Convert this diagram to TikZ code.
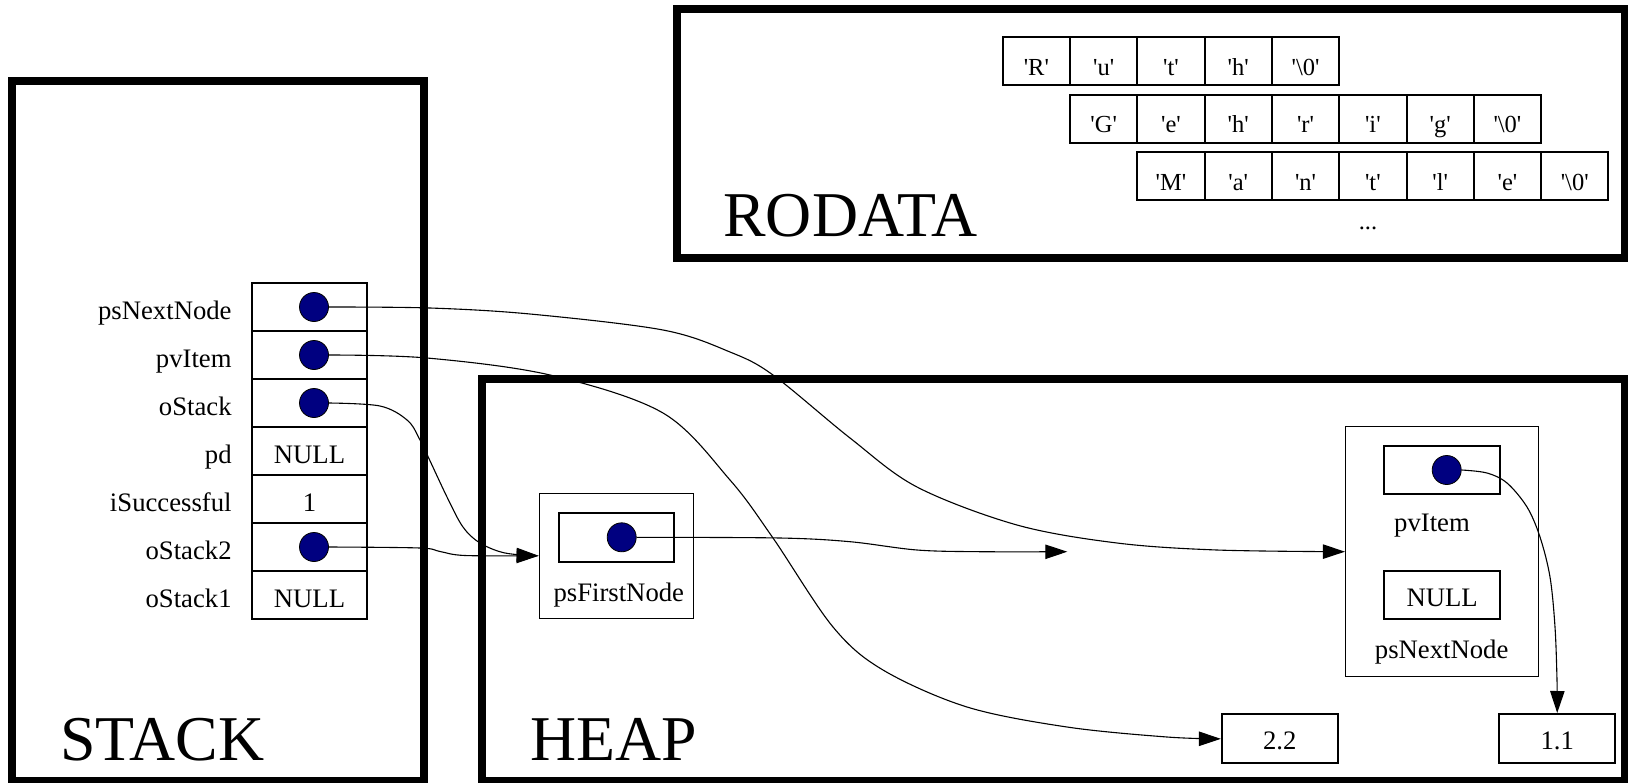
\documentclass[tikz,border=0pt]{standalone}
\usepackage{fontspec}
\setmainfont{Liberation Serif}
\usetikzlibrary{arrows.meta}
\definecolor{dotblue}{RGB}{0,0,128}
\newcommand\q[1]{\textquotesingle#1\textquotesingle}
\newcommand\zq{\q{\textbackslash0}}
\tikzset{
  cluster/.style={draw, line width=4pt},
  cell/.style={draw, line width=1pt, minimum width=57.5pt, minimum height=24pt, inner sep=0pt,
    text height=12pt, text depth=0pt, font=\fontsize{13.35}{16}\selectfont},
  hcell/.style={cell, minimum width=57.85pt, text height=11pt},
  ptr/.style={circle, draw, line width=0.4pt, fill=dotblue, minimum size=14.5pt, inner sep=0pt},
  lbl/.style={inner sep=0pt, anchor=base, font=\fontsize{13.35}{16}\selectfont},
  big/.style={inner sep=0pt, anchor=base west, font=\fontsize{31.9}{36}\selectfont},
  rcell/.style={draw, line width=1pt, minimum width=33.65pt, minimum height=23.9pt, inner sep=0pt,
    text height=14pt, text depth=0pt, font=\fontsize{12.25}{14}\selectfont},
  outerbox/.style={draw, line width=0.75pt, inner sep=0pt},
  edge/.style={line width=0.55pt, -{Triangle[length=11pt,width=7.2pt]}},
}
\begin{document}
\begin{tikzpicture}[x=0.5pt,y=-0.5pt]
\useasboundingbox (0,0) rectangle (1628,782);
% clusters
\draw[cluster] (12,81) rectangle (424,781);
\draw[cluster] (482,379) rectangle (1624.5,781);
\draw[cluster] (677,9) rectangle (1624.5,258);
\node[big] (stk) at (60,760) {STACK};
\node[big] (hp) at (530,760) {HEAP};
\node[big] (rod) at (723,236) {RODATA};
% stack cells
\node[cell] (c1) at (309.5,307) {};
\node[cell] (c2) at (309.5,355) {};
\node[cell] (c3) at (309.5,403) {};
\node[cell] (c4) at (309.5,451) {NULL};
\node[cell] (c5) at (309.5,499) {1};
\node[cell] (c6) at (309.5,547) {};
\node[cell] (c7) at (309.5,595) {NULL};
\node[lbl, anchor=base east] (l1) at (232,319) {psNextNode};
\node[lbl, anchor=base east] (l2) at (232,367) {pvItem};
\node[lbl, anchor=base east] (l3) at (232,415) {oStack};
\node[lbl, anchor=base east] (l4) at (232,463) {pd};
\node[lbl, anchor=base east] (l5) at (232,511) {iSuccessful};
\node[lbl, anchor=base east] (l6) at (232,559) {oStack2};
\node[lbl, anchor=base east] (l7) at (232,607) {oStack1};
\node[ptr] (p1) at (314,307) {};
\node[ptr] (p2) at (314,355) {};
\node[ptr] (p3) at (314,403) {};
\node[ptr] (p6) at (314,547) {};
% heap: psFirstNode
\node[outerbox, minimum width=77.15pt, minimum height=62.5pt] (pf) at (616.5,555.8) {};
\node[cell, minimum width=57.8pt, minimum height=24.2pt] (pfi) at (616.5,537.5) {};
\node[ptr] (p5) at (621.7,537.3) {};
\node[lbl] (pfl) at (618.8,601) {psFirstNode};
\coordinate (fe) at (1067.3,551.7);
% heap: list node
\node[outerbox, minimum width=96.3pt, minimum height=125pt] (rn) at (1442,551.7) {};
\node[hcell] (rni) at (1442.2,470) {};
\node[ptr] (pr) at (1446.7,470) {};
\node[lbl] (rnl1) at (1432,531) {pvItem};
\node[hcell] (rnn) at (1442.2,595.2) {NULL};
\node[lbl] (rnl2) at (1441.7,658) {psNextNode};
\node[hcell, minimum height=24.5pt] (v22) at (1279.75,738.8) {2.2};
\node[hcell, minimum height=24.4pt] (v11) at (1557.2,738.4) {1.1};
% rodata
\foreach \t [count=\k] in {{\q{R}},{\q{u}},{\q{t}},{\q{h}},{\zq}}
  \node[rcell] (ra\k) at ({1036.35+67.3*(\k-1)},61.2) {\t};
\foreach \t [count=\k] in {{\q{G}},{\q{e}},{\q{h}},{\q{r}},{\q{i}},{\q{g}},{\zq}}
  \node[rcell] (rb\k) at ({1103.65+67.3*(\k-1)},118.9) {\t};
\foreach \t [count=\k] in {{\q{M}},{\q{a}},{\q{n}},{\q{t}},{\q{l}},{\q{e}},{\zq}}
  \node[rcell] (rc\k) at ({1170.95+67.3*(\k-1)},176.2) {\t};
\node[lbl, font=\fontsize{12.25}{14}\selectfont] (dots) at (1368,229) {...};
% edges
\draw[edge] plot[smooth, tension=0.55] coordinates {(p1.east) (430,308) (530,314) (663,330) (730,352) (773,375) (850,438) (917,487) (1017,525) (1117,543) (1217,550) (rn.west)};
\draw[edge] plot[smooth, tension=0.55] coordinates {(p2.east) (427,358) (550,375) (663,413) (730,480) (773,538) (833,627) (883,670) (967,707) (1067,727) (1167,737) (v22.west)};
\draw[edge] plot[smooth, tension=0.55] coordinates {(p3.east) (380,406) (407,420) (420,440) (447,497) (463,527) (480,543) (505,553) (pf.west)};
\draw[edge] plot[smooth, tension=0.55] coordinates {(p6.east) (420,548) (440,551.5) (465,555.5) (pf.west)};
\draw[edge] plot[smooth, tension=0.55] coordinates {(p5.east) (780,538) (850,541.7) (917,550) (980,551.7) (fe)};
\draw[edge] plot[smooth, tension=0.55] coordinates {(pr.east) (1487,473) (1507,483) (1527,507) (1540,537) (1550,577) (1555,627) (1557,680) (v11.north)};
\end{tikzpicture}
\end{document}
